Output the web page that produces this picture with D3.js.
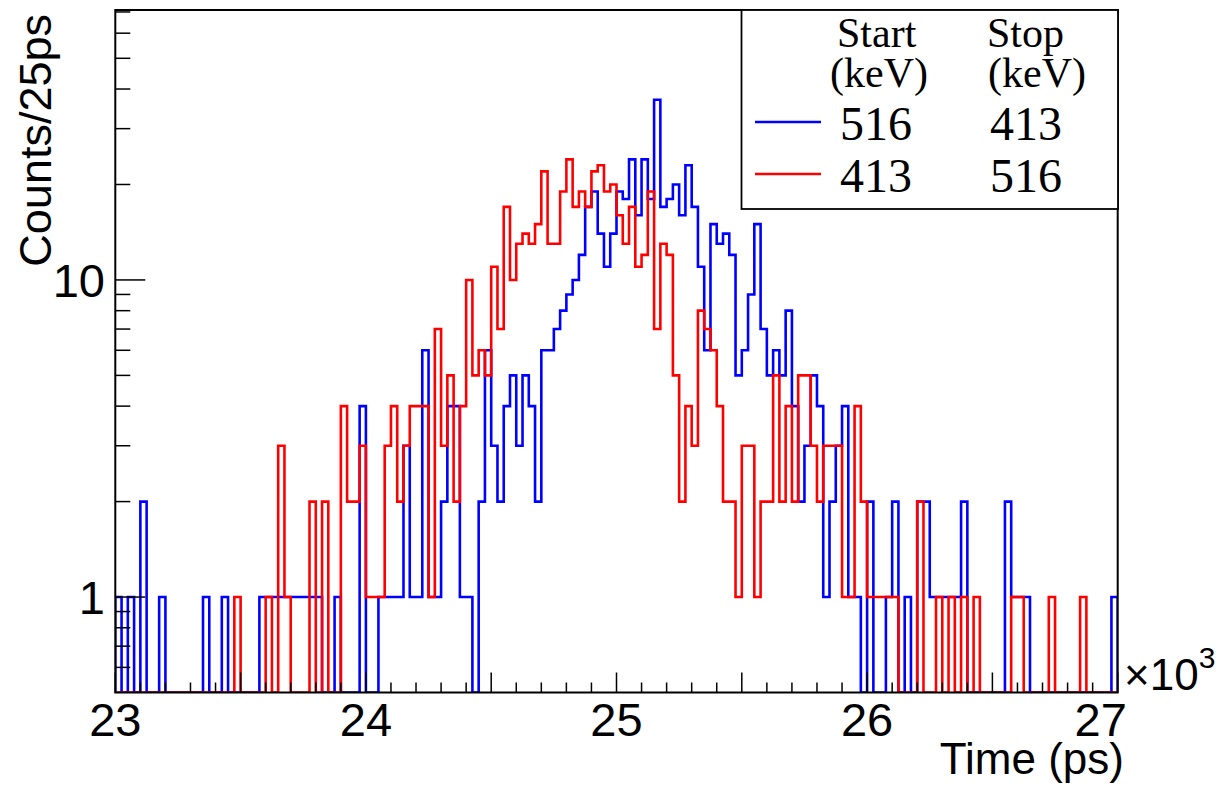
<!DOCTYPE html>
<html>
<head>
<meta charset="utf-8">
<script src="https://cdn.jsdelivr.net/npm/d3@7"></script>
<style>
  html, body { margin: 0; padding: 0; background: #fff; }
  svg { display: block; }
</style>
</head>
<body>
<svg id="chart" width="1221" height="791"></svg>
<script>
// ---------------- data ----------------
const binStart = 23000;     // ps
const binWidth = 25;        // ps
const blueCounts = [
  1,0,1,0,2,0,0,1,0,0, 0,0,0,0,1,0,0,1,0,0,
  0,0,0,1,1,1,1,1,1,1, 1,1,1,0,0,1,0,0,0,4,
  0,0,1,1,1,1,3,1,1,6, 1,1,2,4,4,1,1,0,2,6,
  3,2,4,5,3,5,4,2,6,6, 7,8,9,10,12,17,19,14,11,14,
  19,18,24,16,24,18,37,17,18,20, 16,23,17,11,6,15,13,14,12,5,
  6,9,15,7,5,6,5,8,4,2, 3,5,4,1,2,3,4,1,1,0,
  2,0,0,1,2,0,1,0,2,2, 1,1,1,1,1,2,0,0,0,0,
  0,0,2,1,1,1,0,0,0,0, 0,0,0,0,0,0,0,0,0,1
];
const redCounts = [
  0,0,0,0,0,0,0,0,0,0, 0,0,0,0,0,0,0,0,0,1,
  0,0,0,0,1,0,3,1,0,0, 0,2,0,2,0,0,4,2,2,3,
  1,1,1,3,4,2,3,4,4,4, 1,7,3,5,2,4,10,5,6,5,
  11,7,17,10,13,14,13,15,22,13, 13,19,24,17,19,17,22,23,19,20,
  16,13,17,11,12,19,7,13,12,5, 2,4,3,8,7,6,4,2,2,1,
  3,3,1,2,2,5,2,4,2,5, 5,3,2,3,3,3,1,1,4,2,
  1,1,1,1,1,0,0,0,2,0, 0,1,0,1,0,1,0,1,0,0,
  0,0,0,1,1,0,0,0,0,1, 0,0,0,0,1,0,0,0,0,0
];
const xDomain = [23000, 27000];
const yDomain = [0.5, 71];
const xTickValues = [23000, 24000, 25000, 26000, 27000];
const xTickLabels = ["23", "24", "25", "26", "27"];
const yTickValues = [1, 10];
const yTickLabels = ["1", "10"];
const yMinorValues = [0.6, 0.7, 0.8, 0.9, 2, 3, 4, 5, 6, 7, 8, 9, 20, 30, 40, 50, 60, 70];
const legendHeaders = [["Start", "(keV)"], ["Stop", "(keV)"]];
const legendRows = [
  { color: "#0000ff", start: "516", stop: "413" },
  { color: "#ff0000", start: "413", stop: "516" }
];
const xTitle = "Time (ps)";
const yTitle = "Counts/25ps";

// ---------------- layout ----------------
const frame = { left: 115.3, right: 1117.7, top: 10, bottom: 692.5 };
const svg = d3.select("#chart");
const sans = "'Liberation Sans', Arial, Helvetica, sans-serif";
const serif = "'Liberation Serif', 'Times New Roman', serif";

const x = d3.scaleLinear().domain(xDomain).range([frame.left, frame.right]);
const y = d3.scaleLog().domain(yDomain).range([frame.bottom, frame.top]);
const yVal = v => (v < yDomain[0] ? frame.bottom : y(v));

// histogram step path
function histPoints(counts) {
  const pts = [[binStart, 0]];
  counts.forEach((c, i) => {
    pts.push([binStart + i * binWidth, c]);
    pts.push([binStart + (i + 1) * binWidth, c]);
  });
  pts.push([binStart + counts.length * binWidth, 0]);
  return pts;
}
const line = d3.line().x(d => x(d[0])).y(d => yVal(d[1]));

svg.append("defs").append("clipPath").attr("id", "clip")
  .append("rect").attr("x", frame.left).attr("y", frame.top)
  .attr("width", frame.right - frame.left).attr("height", frame.bottom - frame.top);

const plot = svg.append("g").attr("clip-path", "url(#clip)");
[[blueCounts, "#0000ff"], [redCounts, "#ff0000"]].forEach(([counts, col]) => {
  plot.append("path")
    .attr("d", line(histPoints(counts)))
    .attr("fill", "none")
    .attr("stroke", col)
    .attr("stroke-width", 2.6)
    .attr("stroke-linejoin", "miter");
});

// frame
svg.append("rect")
  .attr("x", frame.left).attr("y", frame.top)
  .attr("width", frame.right - frame.left).attr("height", frame.bottom - frame.top)
  .attr("fill", "none").attr("stroke", "#000").attr("stroke-width", 2);

// x ticks
const xTicksAll = d3.range(xDomain[0], xDomain[1] + 1, 100);
svg.append("g").selectAll("line").data(xTicksAll).join("line")
  .attr("x1", d => x(d)).attr("x2", d => x(d))
  .attr("y1", frame.bottom)
  .attr("y2", d => frame.bottom - (d % 500 === 0 ? 20 : 10))
  .attr("stroke", "#000").attr("stroke-width", 1.5);

svg.append("g").selectAll("text").data(xTickValues).join("text")
  .attr("x", (d, i) => i === xTickValues.length - 1 ? x(d) - 17 : x(d))
  .attr("y", 736)
  .attr("text-anchor", "middle")
  .attr("font-family", sans).attr("font-size", 47)
  .text((d, i) => xTickLabels[i]);

// x exponent
const expo = svg.append("text")
  .attr("x", 1124).attr("y", 690)
  .attr("font-family", sans).attr("font-size", 44);
expo.append("tspan").text("\u00d710");
expo.append("tspan").attr("font-size", 30).attr("dy", -22).text("3");

// y ticks
svg.append("g").selectAll("line").data(yMinorValues).join("line")
  .attr("x1", frame.left).attr("x2", frame.left + 15)
  .attr("y1", d => y(d)).attr("y2", d => y(d))
  .attr("stroke", "#000").attr("stroke-width", 1.5);
svg.append("g").selectAll("line").data(yTickValues).join("line")
  .attr("x1", frame.left).attr("x2", frame.left + 30)
  .attr("y1", d => y(d)).attr("y2", d => y(d))
  .attr("stroke", "#000").attr("stroke-width", 1.5);
svg.append("g").selectAll("text").data(yTickValues).join("text")
  .attr("x", 105).attr("y", d => y(d) + 17)
  .attr("text-anchor", "end")
  .attr("font-family", sans).attr("font-size", 47)
  .text((d, i) => yTickLabels[i]);

// axis titles
svg.append("text")
  .attr("x", 1124).attr("y", 774)
  .attr("text-anchor", "end")
  .attr("font-family", sans).attr("font-size", 44)
  .text(xTitle);
svg.append("text")
  .attr("transform", "translate(51,14) rotate(-90)")
  .attr("text-anchor", "end")
  .attr("font-family", sans).attr("font-size", 45)
  .text(yTitle);

// legend
const lg = svg.append("g");
lg.append("rect")
  .attr("x", 741.5).attr("y", 10).attr("width", 376.5).attr("height", 199)
  .attr("fill", "#fff").attr("stroke", "#000").attr("stroke-width", 1.8);
const colX = [836, 987];
legendHeaders.forEach((h, i) => {
  lg.append("text").attr("x", colX[i] + (i === 0 ? 1 : 0)).attr("y", 47)
    .attr("font-family", serif).attr("font-size", 42).text(h[0]);
  lg.append("text").attr("x", colX[i] - (i === 0 ? 6 : -1)).attr("y", 87)
    .attr("font-family", serif).attr("font-size", 42).text(h[1]);
});
const rowY = [140, 192];
legendRows.forEach((r, i) => {
  lg.append("line")
    .attr("x1", 755).attr("x2", 821)
    .attr("y1", rowY[i] - 18).attr("y2", rowY[i] - 18)
    .attr("stroke", r.color).attr("stroke-width", 2.6);
  lg.append("text").attr("x", 840).attr("y", rowY[i])
    .attr("font-family", serif).attr("font-size", 48).text(r.start);
  lg.append("text").attr("x", 990).attr("y", rowY[i])
    .attr("font-family", serif).attr("font-size", 48).text(r.stop);
});
</script>
</body>
</html>
